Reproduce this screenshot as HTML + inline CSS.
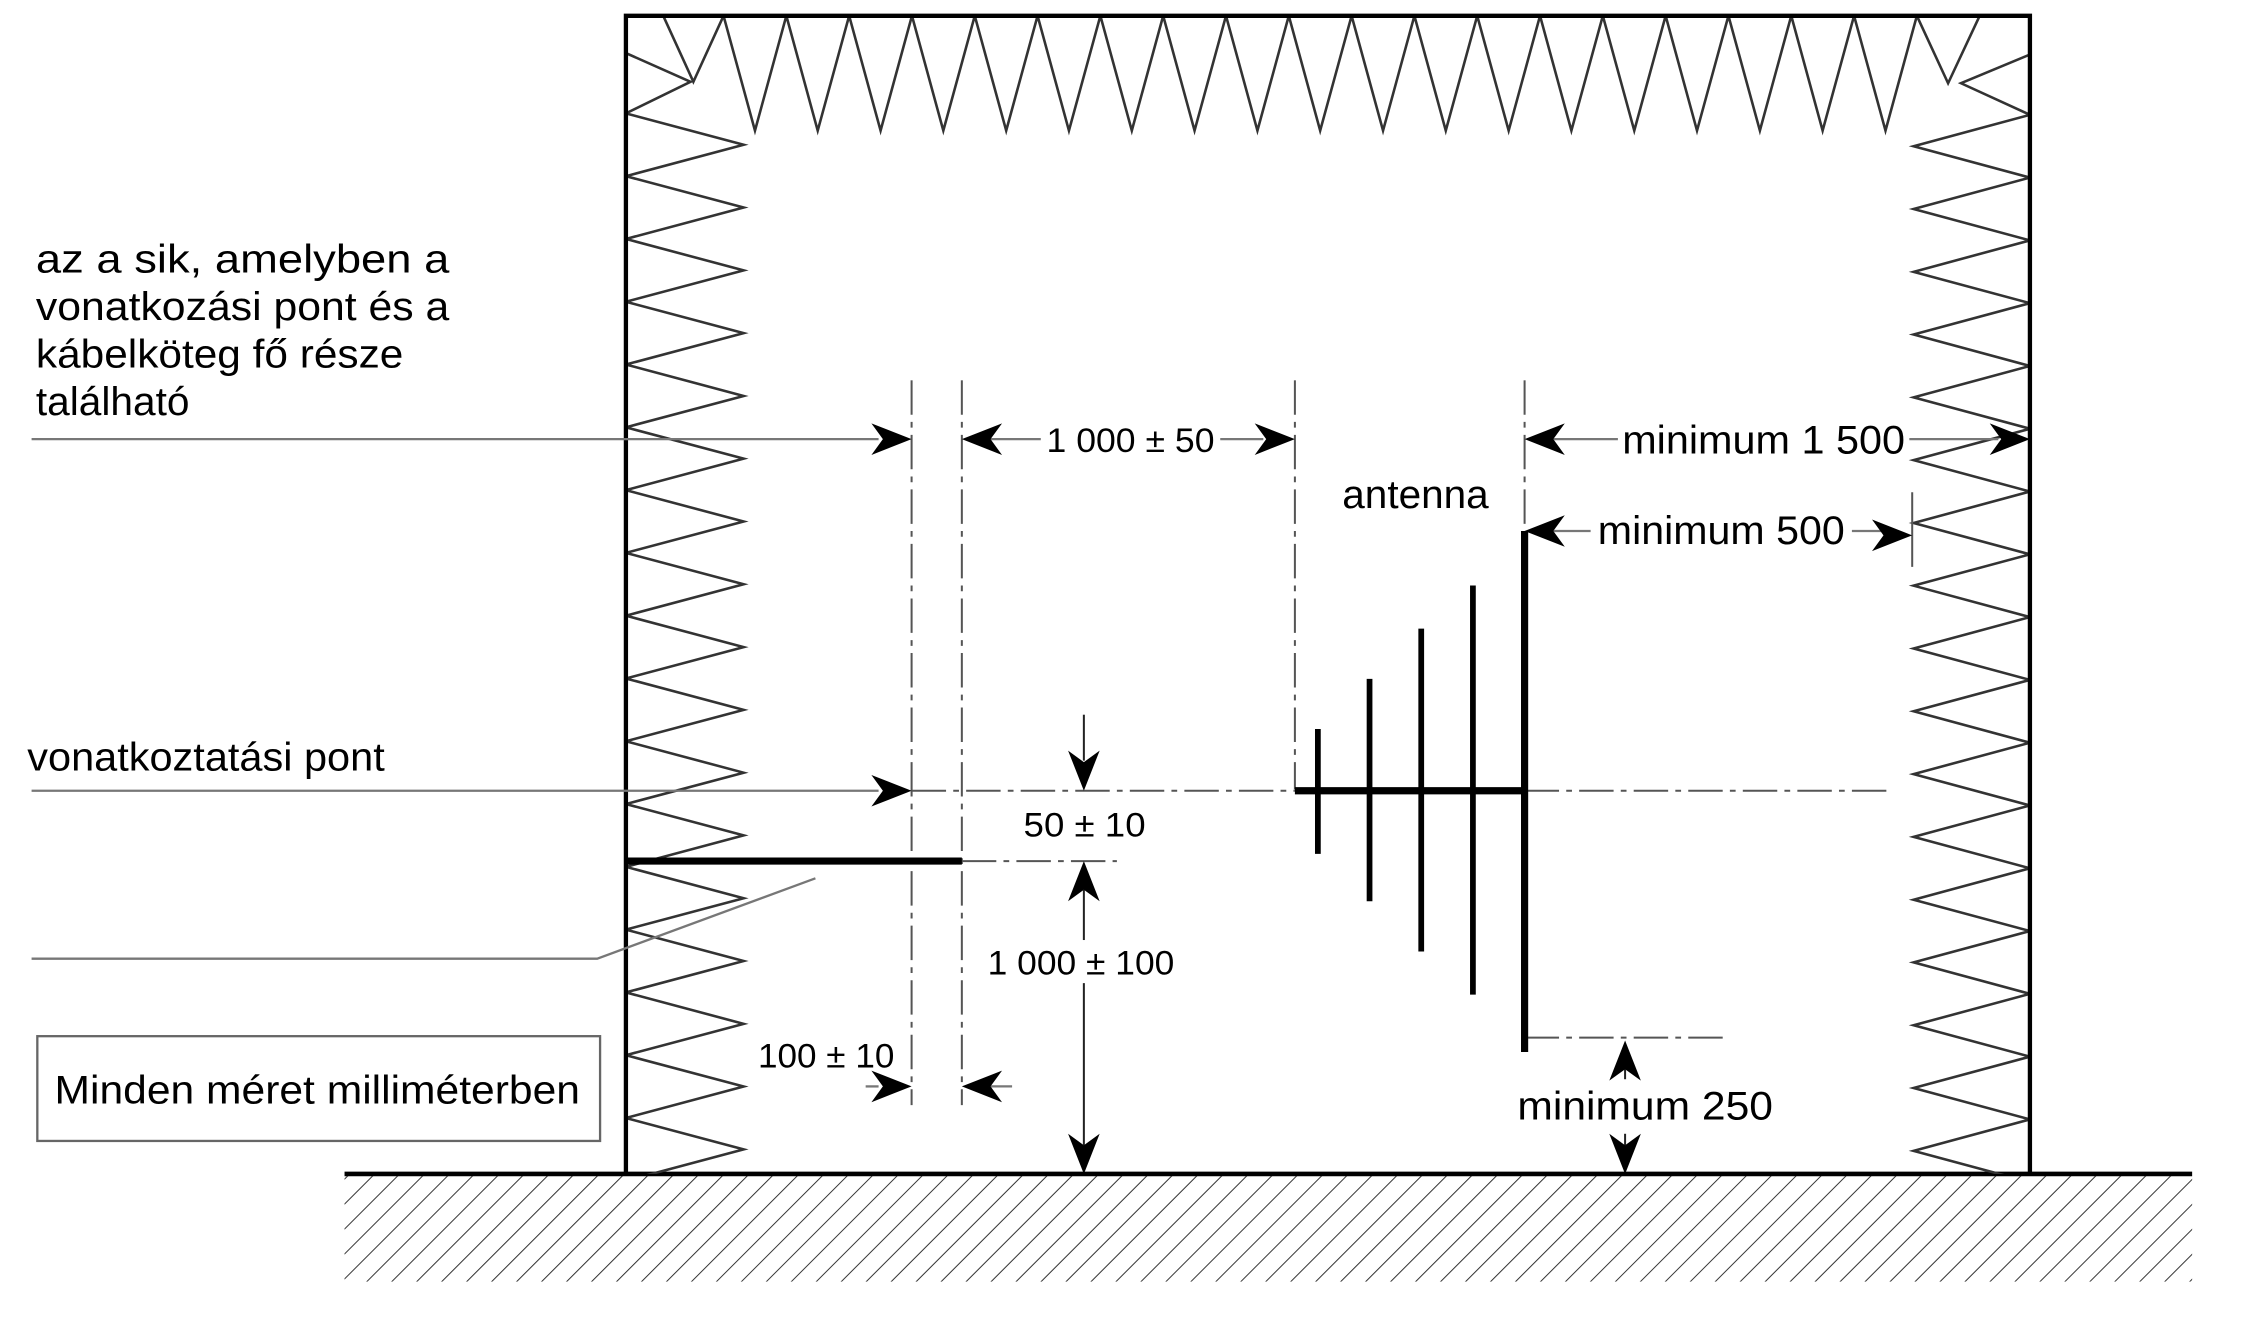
<!DOCTYPE html>
<html><head><meta charset="utf-8"><style>
html,body{margin:0;padding:0;background:#fff;}
svg{display:block;}
text{font-family:"Liberation Sans",Arial,sans-serif;fill:#000;}
</style></head><body>
<svg width="2251" height="1339" viewBox="0 0 1568 933" preserveAspectRatio="none" xmlns="http://www.w3.org/2000/svg">
<defs>
<path id="ah" d="M0,0 L-28,-11 L-20,0 L-28,11 Z" fill="#000"/>
<pattern id="hatch" patternUnits="userSpaceOnUse" width="12.3" height="20" patternTransform="rotate(45)">
<line x1="0" y1="0" x2="0" y2="20" stroke="#333" stroke-width="1.4"/>
</pattern>
<clipPath id="room"><rect x="436" y="11" width="978" height="807"/></clipPath>
</defs>

<rect x="240" y="819" width="1287" height="74" fill="url(#hatch)"/>
<line x1="240" y1="818" x2="1527" y2="818" stroke="#000" stroke-width="3.2"/>

<g clip-path="url(#room)" fill="none" stroke="#333" stroke-width="1.8" stroke-linejoin="miter">
<polyline points="462,11 483,57 504,11 525.9,91 547.75,11 569.6,91 591.5,11 613.4,91 635.25,11 657.1,91 679,11 700.9,91 722.75,11 744.6,91 766.5,11 788.4,91 810.25,11 832.1,91 854,11 875.9,91 897.75,11 919.6,91 941.5,11 963.4,91 985.25,11 1007.1,91 1029,11 1050.9,91 1072.75,11 1094.6,91 1116.5,11 1138.4,91 1160.25,11 1182.1,91 1204,11 1225.9,91 1247.75,11 1269.6,91 1291.5,11 1313.4,91 1335.25,11 1357,58 1379,11"/>
<polyline points="436,37 481,57 436,79 518,100.9 436,122.75 518,144.6 436,166.5 518,188.4 436,210.25 518,232.1 436,254 518,275.9 436,297.75 518,319.6 436,341.5 518,363.4 436,385.25 518,407.1 436,429 518,450.9 436,472.75 518,494.6 436,516.5 518,538.4 436,560.25 518,582.1 436,604 518,625.9 436,647.75 518,669.6 436,691.5 518,713.4 436,735.25 518,757.1 436,779 518,800.9 436,822.75"/>
<polyline points="1414,38 1366,58 1414,80 1333,101.9 1414,123.75 1333,145.6 1414,167.5 1333,189.4 1414,211.25 1333,233.1 1414,255 1333,276.9 1414,298.75 1333,320.6 1414,342.5 1333,364.4 1414,386.25 1333,408.1 1414,430 1333,451.9 1414,473.75 1333,495.6 1414,517.5 1333,539.4 1414,561.25 1333,583.1 1414,605 1333,626.9 1414,648.75 1333,670.6 1414,692.5 1333,714.4 1414,736.25 1333,758.1 1414,780 1333,801.9 1414,823.75"/>
</g>
<polyline points="436,818 436,11 1414,11 1414,818" fill="none" stroke="#000" stroke-width="3"/>

<g stroke="#555" stroke-width="1.4" fill="none" stroke-dasharray="24 5 4 5">
<line x1="635" y1="265" x2="635" y2="770"/>
<line x1="670" y1="265" x2="670" y2="770"/>
<line x1="902" y1="265" x2="902" y2="550"/>
<line x1="1062" y1="265" x2="1062" y2="370"/>
<line x1="635" y1="551" x2="902" y2="551"/>
<line x1="1062" y1="551" x2="1315" y2="551"/>
<line x1="670" y1="600" x2="778" y2="600"/>
<line x1="1062" y1="723" x2="1202" y2="723"/>
</g>
<line x1="1332" y1="343" x2="1332" y2="395" stroke="#555" stroke-width="1.4"/>

<g stroke="#777" stroke-width="1.6" fill="none">
<line x1="22" y1="306" x2="612" y2="306"/>
<line x1="690" y1="306" x2="725" y2="306"/>
<line x1="850" y1="306" x2="880" y2="306"/>
<line x1="1082" y1="306" x2="1127" y2="306"/>
<line x1="1330" y1="306" x2="1392" y2="306"/>
<line x1="1082" y1="370" x2="1108" y2="370"/>
<line x1="1290" y1="370" x2="1312" y2="370"/>
<line x1="22" y1="551" x2="612" y2="551"/>
<polyline points="22,668 416,668 568,612"/>
<line x1="603" y1="757" x2="612" y2="757"/>
<line x1="690" y1="757" x2="705" y2="757"/>
</g>
<g stroke="#222" stroke-width="1.4" fill="none">
<line x1="755" y1="498" x2="755" y2="530"/>
<line x1="755" y1="620" x2="755" y2="655"/>
<line x1="755" y1="685" x2="755" y2="798"/>
<line x1="1132" y1="745" x2="1132" y2="752"/>
<line x1="1132" y1="790" x2="1132" y2="798"/>
</g>

<use href="#ah" transform="translate(635,306)"/>
<use href="#ah" transform="translate(670,306) rotate(180)"/>
<use href="#ah" transform="translate(902,306)"/>
<use href="#ah" transform="translate(1062,306) rotate(180)"/>
<use href="#ah" transform="translate(1414,306)"/>
<use href="#ah" transform="translate(1062,370) rotate(180)"/>
<use href="#ah" transform="translate(1332,373)"/>
<use href="#ah" transform="translate(635,551)"/>
<use href="#ah" transform="translate(755,551) rotate(90)"/>
<use href="#ah" transform="translate(755,600) rotate(-90)"/>
<use href="#ah" transform="translate(755,818) rotate(90)"/>
<use href="#ah" transform="translate(635,757)"/>
<use href="#ah" transform="translate(670,757) rotate(180)"/>
<use href="#ah" transform="translate(1132,725) rotate(-90)"/>
<use href="#ah" transform="translate(1132,818) rotate(90)"/>

<line x1="436" y1="600" x2="670" y2="600" stroke="#000" stroke-width="5"/>

<g stroke="#000" fill="none">
<line x1="902" y1="551" x2="1062" y2="551" stroke-width="5"/>
<line x1="918" y1="508" x2="918" y2="595" stroke-width="4"/>
<line x1="954" y1="473" x2="954" y2="628" stroke-width="4"/>
<line x1="990" y1="438" x2="990" y2="663" stroke-width="4"/>
<line x1="1026" y1="408" x2="1026" y2="693" stroke-width="4"/>
<line x1="1062" y1="370" x2="1062" y2="733" stroke-width="5"/>
</g>

<rect x="26" y="722" width="392" height="73" fill="none" stroke="#666" stroke-width="1.6"/>

<g font-size="28">
<text x="25" y="190" textLength="288" lengthAdjust="spacingAndGlyphs">az  a  sik,  amelyben  a</text>
<text x="25" y="223" textLength="288" lengthAdjust="spacingAndGlyphs">vonatkozási  pont  és  a</text>
<text x="25" y="256" textLength="256" lengthAdjust="spacingAndGlyphs">kábelköteg  fő  része</text>
<text x="25" y="289" textLength="107" lengthAdjust="spacingAndGlyphs">található</text>
<text x="19" y="537" textLength="249" lengthAdjust="spacingAndGlyphs">vonatkoztatási pont</text>
<text x="935" y="354" textLength="102" lengthAdjust="spacingAndGlyphs">antenna</text>
<text x="1130" y="316" textLength="197" lengthAdjust="spacingAndGlyphs">minimum 1 500</text>
<text x="1113" y="379" textLength="172" lengthAdjust="spacingAndGlyphs">minimum 500</text>
<text x="1057" y="780" textLength="178" lengthAdjust="spacingAndGlyphs">minimum  250</text>
<text x="38" y="769" textLength="366" lengthAdjust="spacingAndGlyphs">Minden  méret  milliméterben</text>
</g>
<g font-size="24">
<text x="729" y="315" textLength="117" lengthAdjust="spacingAndGlyphs">1 000 ± 50</text>
<text x="713" y="583" textLength="85" lengthAdjust="spacingAndGlyphs">50 ± 10</text>
<text x="688" y="679" textLength="130" lengthAdjust="spacingAndGlyphs">1 000 ± 100</text>
<text x="528" y="744" textLength="95" lengthAdjust="spacingAndGlyphs">100 ± 10</text>
</g>
</svg>
</body></html>
